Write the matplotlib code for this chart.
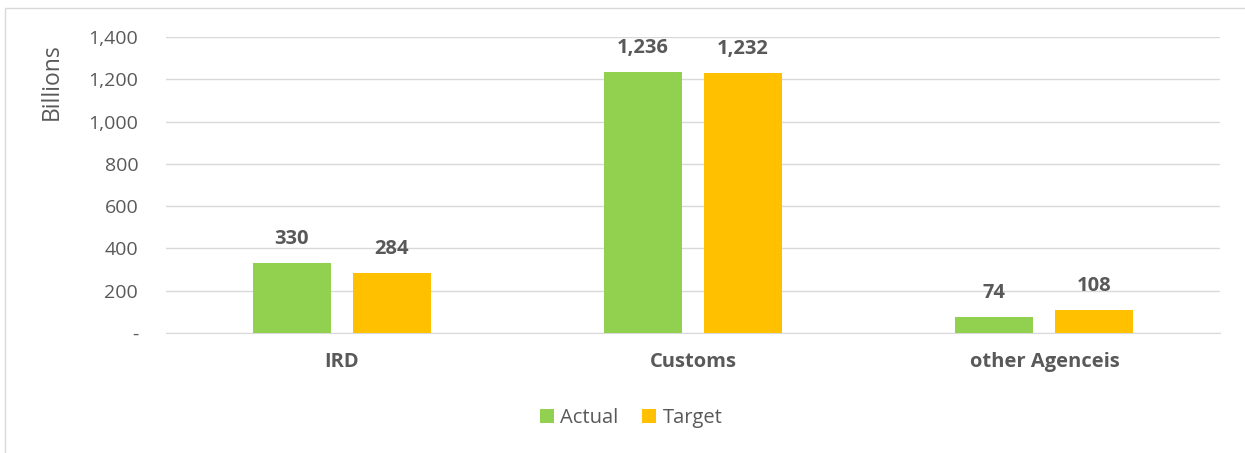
import matplotlib.pyplot as plt
import matplotlib.ticker as mticker
from matplotlib.patches import Rectangle
import numpy as np

categories = ['IRD', 'Customs', 'other Agenceis']
actual = [330, 1236, 74]
target = [284, 1232, 108]
yticks = [0, 200, 400, 600, 800, 1000, 1200, 1400]

plt.rcParams['font.family'] = ['Open Sans', 'DejaVu Sans']
text_color = '#595959'

fig = plt.figure(figsize=(12.45, 4.53), dpi=100)
ax = fig.add_axes([0.1333, 0.265, 0.8467, 0.653])

# outer chart border (only top/left visible in reference)
fig.patches.append(Rectangle((5 / 1245, -0.1), 1.2, 1 - 8 / 453 + 0.1,
                             transform=fig.transFigure, fill=False,
                             edgecolor='#D9D9D9', lw=1))

x = np.arange(len(categories))
w = 0.222
off = 0.1425
b1 = ax.bar(x - off, actual, w, color='#92D050', label='Actual', zorder=3)
b2 = ax.bar(x + off, target, w, color='#FFC000', label='Target', zorder=3)

for bars, vals in [(b1, actual), (b2, target)]:
    for rect, v in zip(bars, vals):
        ax.annotate(f'{v:,}', (rect.get_x() + rect.get_width() / 2, v),
                    xytext=(0, 10), textcoords='offset points',
                    ha='center', va='bottom', fontsize=14.5, fontweight='bold',
                    color=text_color)

ax.set_xlim(-0.5, len(categories) - 0.5)
ax.set_ylim(0, 1400)
ax.set_yticks(yticks)
ax.yaxis.set_major_formatter(mticker.FuncFormatter(
    lambda v, p: '-' if v == 0 else f'{int(v):,}'))
ax.set_xticks(x)
ax.set_xticklabels(categories, fontweight='bold', fontsize=14.5)
ax.tick_params(axis='both', length=0, colors=text_color)
ax.tick_params(axis='y', pad=20, labelsize=14)
ax.tick_params(axis='x', pad=14)
ax.grid(axis='y', color='#D9D9D9', lw=1, zorder=0)
for s in ['top', 'right', 'left']:
    ax.spines[s].set_visible(False)
ax.spines['bottom'].set_color('#D9D9D9')
ax.set_ylabel('Billions', color=text_color, fontsize=16.5)
ax.yaxis.set_label_coords(-0.097, 0.85)

fig.legend(loc='center', bbox_to_anchor=(631 / 1245, 1 - 418 / 453), ncol=2,
           frameon=False, fontsize=14.5, labelcolor=text_color,
           handlelength=0.7, handleheight=0.7, handletextpad=0.3,
           columnspacing=1.2)

fig.savefig('out.png', dpi=100)
